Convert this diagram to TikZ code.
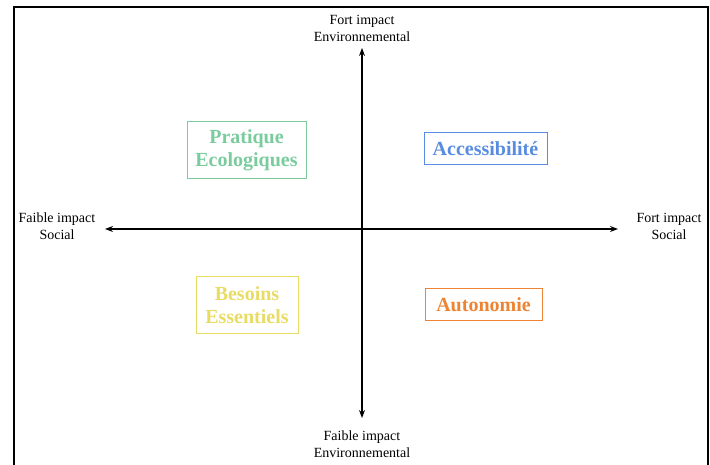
\documentclass[tikz,border=0pt]{standalone}
\usepackage{fontspec}
\setmainfont{Liberation Serif}
\usetikzlibrary{arrows.meta}
\definecolor{cgreen}{RGB}{122,204,158}
\definecolor{cblue}{RGB}{88,140,224}
\definecolor{cyellow}{RGB}{232,220,100}
\definecolor{corange}{RGB}{236,132,52}
\begin{document}
\begin{tikzpicture}[x=1pt,y=1pt,
  axislabel/.style={align=center,font=\fontsize{14}{17}\selectfont,inner sep=0pt},
  quad/.style={draw=#1,text=#1,line width=1pt,align=center,inner sep=0pt,
    font=\fontsize{20}{23}\selectfont\bfseries},
  axis/.style={line width=1.2pt,{Stealth[length=8pt,width=6pt]}-{Stealth[length=8pt,width=6pt]}}]
\useasboundingbox (0,0) rectangle (710,465);
\draw[line width=2.5pt] (14,-3) -- (14,458) -- (708,458) -- (708,-3);
% axes
\coordinate (top) at (362,417);
\coordinate (bot) at (362,47);
\coordinate (lft) at (105,236);
\coordinate (rgt) at (618,236);
\draw[axis] (bot) -- (top);
\draw[axis] (lft) -- (rgt);
% axis labels
\node[axislabel] (ltop) at (362,436.5) {Fort impact\\Environnemental};
\node[axislabel] (lbot) at (362,20.5) {Faible impact\\Environnemental};
\node[axislabel] (lleft) at (57,238.5) {Faible impact\\Social};
\node[axislabel] (lright) at (669,238.5) {Fort impact\\Social};
% quadrant boxes
\node[quad=cgreen,minimum width=119pt,minimum height=57pt] (prat) at (246.5,314.5) {Pratique\\Ecologiques};
\node[quad=cblue,minimum width=123pt,minimum height=32pt] (acc) at (485.5,316) {Accessibilité};
\node[quad=cyellow,minimum width=102pt,minimum height=57pt] (bes) at (247,159.5) {Besoins\\Essentiels};
\node[quad=corange,minimum width=117pt,minimum height=32pt] (aut) at (483.5,160) {Autonomie};
\end{tikzpicture}
\end{document}
